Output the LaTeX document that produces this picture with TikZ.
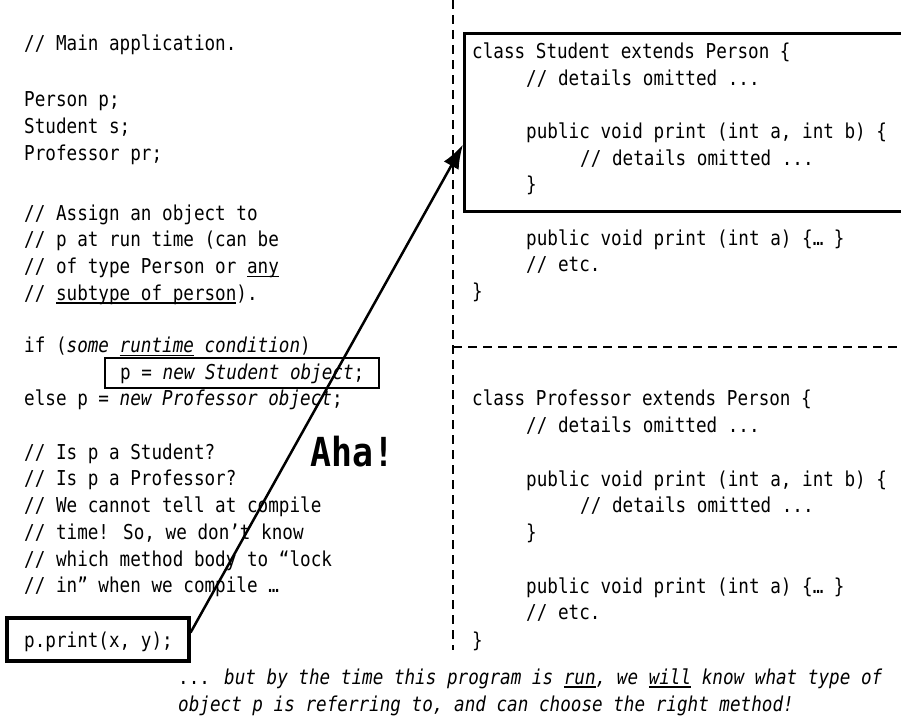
\documentclass[tikz,border=0pt]{standalone}
\usepackage{fontspec}
\usetikzlibrary{arrows.meta}
\newfontfamily\codefont[FakeStretch=0.86]{DejaVu Sans Mono}
\newfontfamily\ahafont[FakeStretch=0.87]{DejaVu Sans Mono Bold}
\newcommand\code{\codefont\fontsize{20.5}{24}\selectfont}
\newcommand\myul[1]{\setbox0\hbox{#1}\rlap{\rule[-3.5pt]{\wd0}{1.3pt}}\box0\relax}
\tikzset{
  ln/.style={anchor=base west, inner sep=0pt, font=\code},
  hilite/.style={draw, line width=3.2pt, inner sep=0pt},
  thinbox/.style={draw, line width=1.3pt, inner sep=0pt},
  divider/.style={line width=1.5pt, dash pattern=on 9pt off 6pt},
  callarrow/.style={line width=2.5pt, -{Latex[length=24pt,width=17pt]}}
}
\begin{document}
\begin{tikzpicture}[x=1pt,y=-1pt]
\useasboundingbox (0,0) rectangle (901,717);
\fill[white] (0,0) rectangle (901,717);
\def\L{24}
% left column
\node[ln] (l0)  at (\L,51)     {// Main application.};
\node[ln] (l2)  at (\L,106)    {Person p;};
\node[ln] (l3)  at (\L,133)    {Student s;};
\node[ln] (l4)  at (\L,160)    {Professor pr;};
\node[ln] (l6)  at (\L,220)    {// Assign an object to};
\node[ln] (l7)  at (\L,246.75) {// p at run time (can be};
\node[ln] (l8)  at (\L,273.5)  {// of type Person or \myul{any}};
\node[ln] (l9)  at (\L,300.25) {// \myul{subtype of person}).};
\node[ln] (l11) at (\L,352.75) {if (\textit{some \myul{runtime} condition})};
\node[ln] (l12) at (120,379)   {p = \textit{new Student object};};
\node[ln] (l13) at (\L,405.75) {else p = \textit{new Professor object};};
\node[ln] (l15) at (\L,459)    {// Is p a Student?};
\node[ln] (l16) at (\L,485.75) {// Is p a Professor?};
\node[ln] (l17) at (\L,512.5)  {// We cannot tell at compile};
\node[ln] (l18) at (\L,539.25) {// time! So, we don’t know};
\node[ln] (l19) at (\L,566)    {// which method body to “lock};
\node[ln] (l20) at (\L,592.75) {// in” when we compile …};
\node[ln] (l22) at (\L,647)    {p.print(x, y);};
\node[thinbox, minimum width=274pt, minimum height=30pt] (newbox) at (242,373) {};
\node[hilite, minimum width=182pt, minimum height=43pt] (pprint) at (98,639.5) {};
% bottom note
\node[ln] (b1) at (178,684) {... \textit{but by the time this program is \myul{run}, we \myul{will} know what type of}};
\node[ln] (b2) at (178,711) {\textit{object p is referring to, and can choose the right method!}};
% dividers
\coordinate (vtop) at (453,0);
\coordinate (vbot) at (453,650);
\coordinate (hl) at (453,347);
\coordinate (hr) at (901,347);
\draw[divider] (vtop) -- (vbot);
\draw[divider] (hl) -- (hr);
% right column
\def\R{472}\def\Ra{526}\def\Rb{580}
\node[ln] (s0) at (\R,58.5)    {class Student extends Person \{};
\node[ln] (s1) at (\Ra,85)     {// details omitted ...};
\node[ln] (s3) at (\Ra,138.5)  {public void print (int a, int b) \{};
\node[ln] (s4) at (\Rb,165)    {// details omitted ...};
\node[ln] (s5) at (\Ra,191.5)  {\}};
\node[ln] (s7) at (\Ra,245)    {public void print (int a) \{… \}};
\node[ln] (s8) at (\Ra,271.5)  {// etc.};
\node[ln] (s9) at (\R,298.5)   {\}};
\node[hilite, anchor=north west, minimum width=460pt, minimum height=178pt] (sbox) at (463,32) {};
\node[ln] (p0) at (\R,405.75)  {class Professor extends Person \{};
\node[ln] (p1) at (\Ra,432)    {// details omitted ...};
\node[ln] (p3) at (\Ra,486)    {public void print (int a, int b) \{};
\node[ln] (p4) at (\Rb,512.5)  {// details omitted ...};
\node[ln] (p5) at (\Ra,539.25) {\}};
\node[ln] (p7) at (\Ra,593)    {public void print (int a) \{… \}};
\node[ln] (p8) at (\Ra,619.5)  {// etc.};
\node[ln] (p9) at (\R,647)     {\}};
% Aha
\node[anchor=base west, inner sep=0pt, font=\ahafont\fontsize{40}{42}\selectfont] (aha) at (310,466) {Aha!};
% arrow
\draw[callarrow] ([yshift=7pt]pprint.east) -- ([yshift=-22pt]sbox.west);
\end{tikzpicture}
\end{document}
